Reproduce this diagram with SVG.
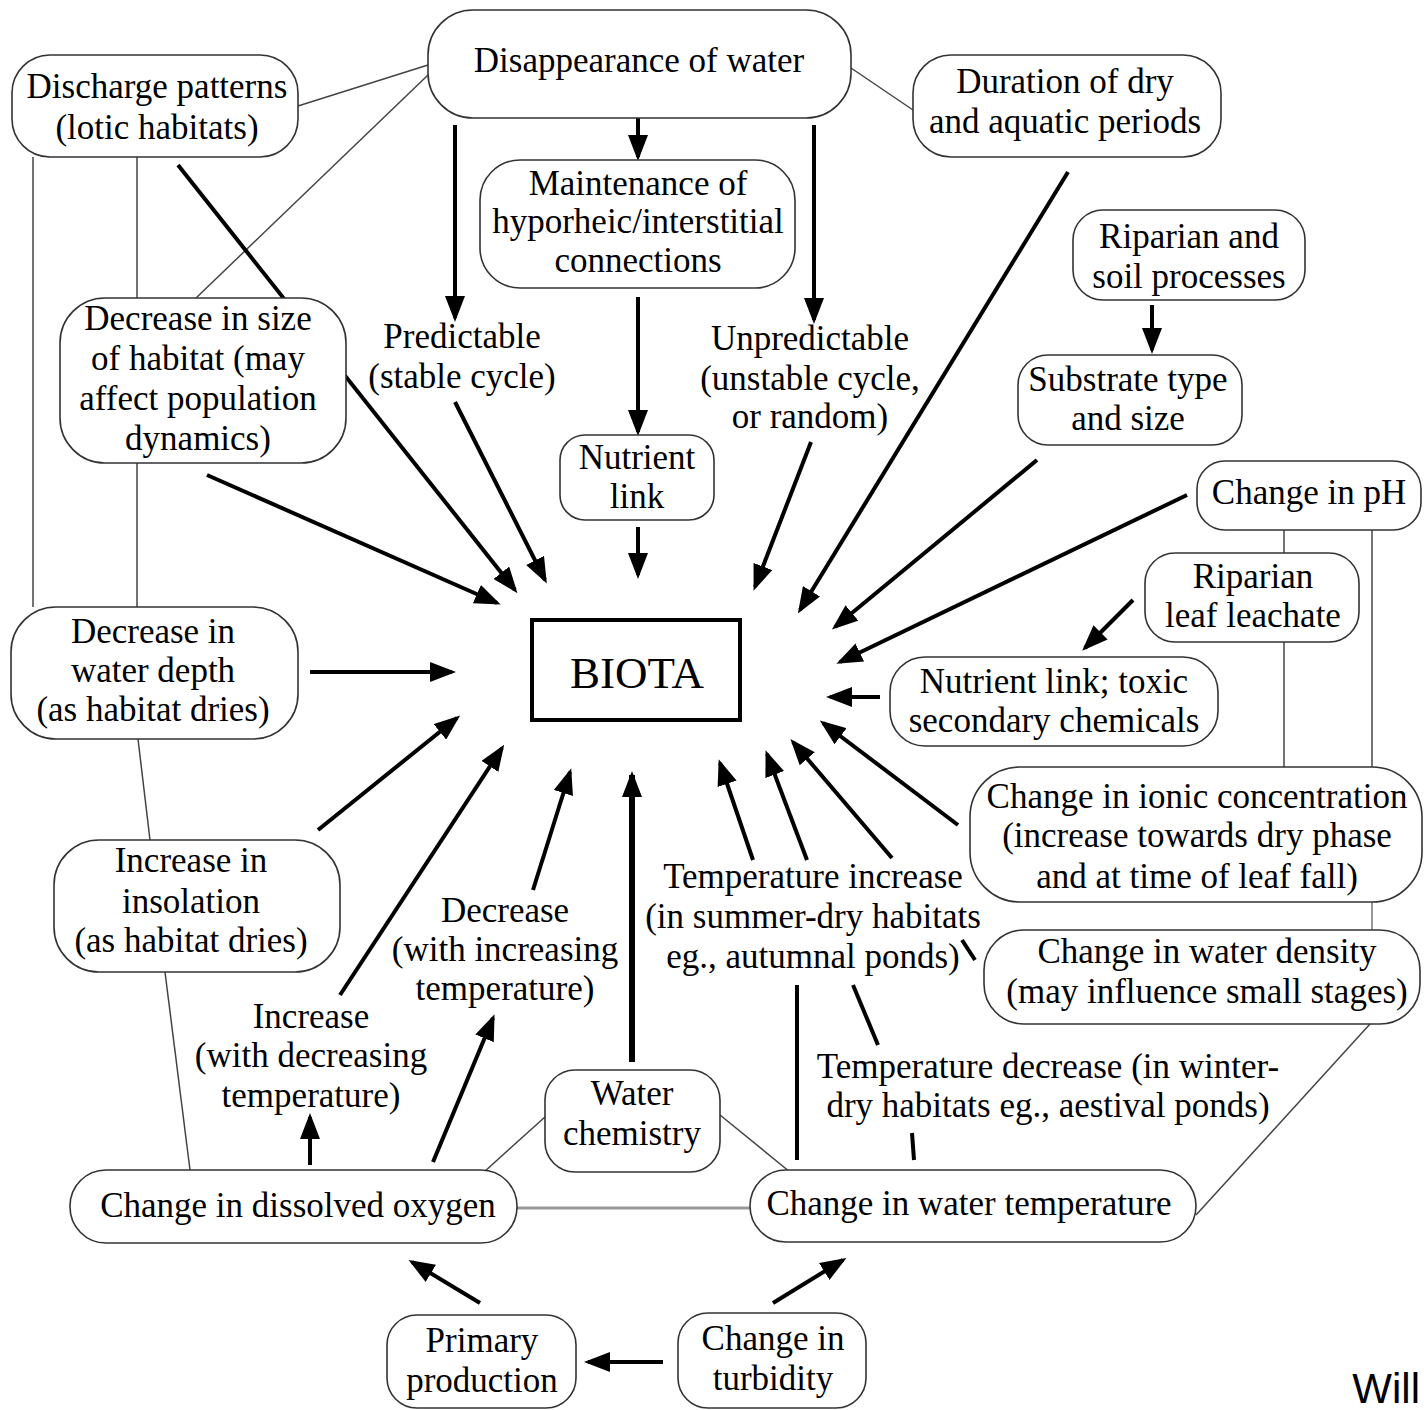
<svg xmlns="http://www.w3.org/2000/svg" width="1424" height="1410" viewBox="0 0 1424 1410" font-family="'Liberation Serif', 'Times New Roman', serif">
<style>
.nd rect{fill:#fff;stroke:#333;stroke-width:1.6}
text{font-family:'Liberation Serif','Times New Roman',serif;font-size:35px;fill:#000;text-anchor:middle}
.thin{stroke:#444;stroke-width:1.5;fill:none}
.gray{stroke:#999;stroke-width:3;fill:none}
.arr{stroke:#000;stroke-width:4;fill:none;marker-end:url(#ah)}
.bar{stroke:#000;stroke-width:4;fill:none}
</style>
<defs>
<marker id="ah" viewBox="0 0 26 20" refX="22" refY="10" markerWidth="26" markerHeight="20" markerUnits="userSpaceOnUse" orient="auto">
<path d="M0,0 L26,10 L0,20 z" fill="#000"/>
</marker>
</defs>
<rect width="1424" height="1410" fill="#fff"/>
<g id="connectors">
<path class="thin" d="M298,106 L428,65"/>
<path class="thin" d="M428,75 L196,298"/>
<path class="thin" d="M851,68 L913,110"/>
<path class="thin" d="M33,157 L33,607"/>
<path class="thin" d="M137,157 L137,298"/>
<path class="thin" d="M137,463 L137,607"/>
<path class="thin" d="M138,739 L150,840"/>
<path class="thin" d="M165,972 L190,1170"/>
<path class="gray" d="M517,1208 L750,1208"/>
<path class="thin" d="M484,1172 L545,1117"/>
<path class="thin" d="M720,1115 L790,1172"/>
<path class="thin" d="M1284,530 L1284,553"/>
<path class="thin" d="M1284,642 L1284,767"/>
<path class="thin" d="M1372,530 L1372,767"/>
<path class="gray" d="M1372,902 L1372,930" style="stroke-width:2"/>
<path class="thin" d="M1370,1024 L1196,1215"/>
<path class="arr" d="M455,125 L455,318"/>
<path class="arr" d="M638,118 L638,157"/>
<path class="arr" d="M814,125 L814,320"/>
<path class="arr" d="M638,297 L638,432"/>
<path class="arr" d="M638,527 L638,575"/>
<path class="arr" d="M178,165 L515,590"/>
<path class="arr" d="M207,475 L497,603"/>
<path class="arr" d="M455,402 L545,580"/>
<path class="arr" d="M811,442 L755,587"/>
<path class="arr" d="M1068,172 L800,610"/>
<path class="arr" d="M1037,460 L835,627"/>
<path class="arr" d="M1152,305 L1152,350"/>
<path class="arr" d="M1187,495 L840,662"/>
<path class="arr" d="M1133,600 L1085,648"/>
<path class="arr" d="M880,697 L830,697"/>
<path class="arr" d="M958,825 L823,723"/>
<path class="arr" d="M892,858 L793,742"/>
<path class="arr" d="M807,860 L767,754"/>
<path class="arr" d="M753,860 L720,763"/>
<path class="arr" d="M310,672 L452,672"/>
<path class="arr" d="M318,830 L457,718"/>
<path class="arr" d="M340,995 L502,748"/>
<path class="arr" d="M533,890 L570,772"/>
<path class="arr" d="M632,1062 L632,775" style="stroke-width:6"/>
<path class="arr" d="M433,1162 L493,1018"/>
<path class="arr" d="M310,1165 L310,1117"/>
<path class="arr" d="M480,1303 L412,1262"/>
<path class="arr" d="M773,1303 L843,1260"/>
<path class="arr" d="M663,1362 L588,1362"/>
<path class="bar" d="M797,985 L797,1160"/>
<path class="bar" d="M853,985 L878,1045"/>
<path class="bar" d="M912,1133 L914,1160"/>
<path class="bar" d="M962,940 L975,960"/>
</g>
<g id="n-discharge" class="nd"><rect x="12" y="55" width="286" height="102" rx="38"/><text x="157" y="98">Discharge patterns</text><text x="157" y="139">(lotic habitats)</text></g>
<g id="n-disappearance" class="nd"><rect x="428" y="10" width="423" height="108" rx="45"/><text x="639" y="72">Disappearance of water</text></g>
<g id="n-duration" class="nd"><rect x="913" y="55" width="308" height="102" rx="38"/><text x="1065" y="93">Duration of dry</text><text x="1065" y="133">and aquatic periods</text></g>
<g id="n-maintenance" class="nd"><rect x="480" y="160" width="315" height="128" rx="40"/><text x="638" y="195">Maintenance of</text><text x="638" y="233">hyporheic/interstitial</text><text x="638" y="272">connections</text></g>
<g id="n-riparian-soil" class="nd"><rect x="1073" y="210" width="232" height="90" rx="30"/><text x="1189" y="248">Riparian and</text><text x="1189" y="288">soil processes</text></g>
<g id="n-decrease-size" class="nd"><rect x="60" y="298" width="286" height="165" rx="45"/><text x="198" y="330">Decrease in size</text><text x="198" y="370">of habitat (may</text><text x="198" y="410">affect population</text><text x="198" y="450">dynamics)</text></g>
<g id="l-predictable"><text x="462" y="348">Predictable</text><text x="462" y="388">(stable cycle)</text></g>
<g id="l-unpredictable"><text x="810" y="350">Unpredictable</text><text x="810" y="390">(unstable cycle,</text><text x="810" y="428">or random)</text></g>
<g id="n-nutrient-link" class="nd"><rect x="560" y="435" width="154" height="85" rx="25"/><text x="637" y="469">Nutrient</text><text x="637" y="508">link</text></g>
<g id="n-substrate" class="nd"><rect x="1018" y="355" width="224" height="90" rx="30"/><text x="1128" y="391">Substrate type</text><text x="1128" y="430">and size</text></g>
<g id="n-ph" class="nd"><rect x="1197" y="461" width="224" height="69" rx="28"/><text x="1309" y="504">Change in pH</text></g>
<g id="n-riparian-leaf" class="nd"><rect x="1145" y="553" width="214" height="89" rx="30"/><text x="1253" y="588">Riparian</text><text x="1253" y="627">leaf leachate</text></g>
<g id="n-decrease-depth" class="nd"><rect x="11" y="607" width="287" height="132" rx="45"/><text x="153" y="643">Decrease in</text><text x="153" y="682">water depth</text><text x="153" y="721">(as habitat dries)</text></g>
<g id="n-biota"><rect x="532" y="620" width="208" height="100" fill="#fff" stroke="#000" stroke-width="4"/><text x="637" y="688" style="font-size:45px">BIOTA</text></g>
<g id="n-nutrient-toxic" class="nd"><rect x="890" y="657" width="328" height="89" rx="35"/><text x="1054" y="693">Nutrient link; toxic</text><text x="1054" y="732">secondary chemicals</text></g>
<g id="n-ionic" class="nd"><rect x="970" y="767" width="452" height="135" rx="50"/><text x="1197" y="808">Change in ionic concentration</text><text x="1197" y="847">(increase towards dry phase</text><text x="1197" y="888">and at time of leaf fall)</text></g>
<g id="n-insolation" class="nd"><rect x="54" y="840" width="286" height="132" rx="45"/><text x="191" y="872">Increase in</text><text x="191" y="913">insolation</text><text x="191" y="952">(as habitat dries)</text></g>
<g id="l-temp-increase"><text x="813" y="888">Temperature increase</text><text x="813" y="928">(in summer-dry habitats</text><text x="813" y="968">eg., autumnal ponds)</text></g>
<g id="l-decrease"><text x="505" y="922">Decrease</text><text x="505" y="961">(with increasing</text><text x="505" y="1000">temperature)</text></g>
<g id="n-water-density" class="nd"><rect x="984" y="930" width="436" height="94" rx="40"/><text x="1207" y="963">Change in water density</text><text x="1207" y="1003">(may influence small stages)</text></g>
<g id="l-increase"><text x="311" y="1028">Increase</text><text x="311" y="1067">(with decreasing</text><text x="311" y="1107">temperature)</text></g>
<g id="l-temp-decrease"><text x="1048" y="1078">Temperature decrease (in winter-</text><text x="1048" y="1117">dry habitats eg., aestival ponds)</text></g>
<g id="n-water-chem" class="nd"><rect x="545" y="1070" width="175" height="102" rx="30"/><text x="632" y="1105">Water</text><text x="632" y="1145">chemistry</text></g>
<g id="n-do" class="nd"><rect x="70" y="1170" width="447" height="73" rx="36"/><text x="298" y="1217">Change in dissolved oxygen</text></g>
<g id="n-water-temp" class="nd"><rect x="750" y="1170" width="446" height="72" rx="36"/><text x="969" y="1215">Change in water temperature</text></g>
<g id="n-primary" class="nd"><rect x="387" y="1315" width="189" height="93" rx="30"/><text x="482" y="1352">Primary</text><text x="482" y="1392">production</text></g>
<g id="n-turbidity" class="nd"><rect x="678" y="1313" width="188" height="95" rx="30"/><text x="773" y="1350">Change in</text><text x="773" y="1390">turbidity</text></g>
<text x="1420" y="1403" style="font-family:'Liberation Sans',Arial,sans-serif;font-size:42px;text-anchor:end">Will</text>
</svg>
